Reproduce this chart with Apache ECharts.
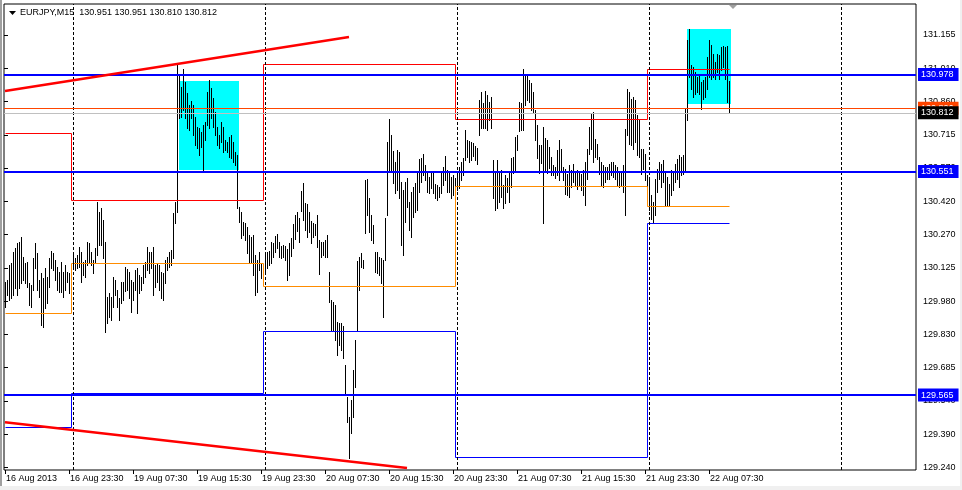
<!DOCTYPE html>
<html>
<head>
<meta charset="utf-8">
<script src="https://cdn.jsdelivr.net/npm/echarts@6/dist/echarts.min.js"></script>
<style>html,body{margin:0;padding:0;background:#fff;}#c{width:962px;height:490px;}</style>
</head>
<body>
<div id="c"></div>
<script>
// ---------- data ----------
const symbolTitle = 'EURJPY,M15';
const headerOHLC = ['130.951', '130.951', '130.810', '130.812'];
const slotCount = 456; // bar slots across the chart (data + right shift)
const xTickLabels = ['16 Aug 2013','16 Aug 23:30','19 Aug 07:30','19 Aug 15:30','19 Aug 23:30','20 Aug 07:30','20 Aug 15:30','20 Aug 23:30','21 Aug 07:30','21 Aug 15:30','21 Aug 23:30','22 Aug 07:30'];
const yTickLabels = ['129.240','129.390','129.540','129.685','129.830','129.980','130.125','130.270','130.420','130.570','130.715','130.860','131.010','131.155'];
const highs = [
130.061,130.070,130.136,130.145,130.194,130.211,130.234,130.238,130.260,130.171,
130.145,130.149,130.056,130.047,130.167,130.234,130.189,130.070,130.101,130.078,
130.123,130.083,130.167,130.198,130.189,130.158,130.127,130.105,130.149,130.105,
130.136,130.105,130.101,130.092,130.180,130.167,130.180,130.216,130.194,130.149,
130.158,130.238,130.234,130.194,130.158,130.211,130.415,130.371,130.389,130.335,
130.238,129.994,130.012,129.994,130.083,130.070,130.025,129.990,130.061,130.061,
130.127,130.118,130.105,130.070,130.061,130.114,130.123,130.092,130.083,130.136,
130.149,130.216,130.194,130.194,130.216,130.136,130.145,130.136,130.105,130.101,
130.158,130.171,130.194,130.203,130.366,130.415,131.022,130.978,130.925,131.004,
130.947,130.898,130.845,130.863,130.845,130.792,130.747,130.743,130.725,130.756,
130.770,130.902,130.956,130.920,130.876,130.814,130.747,130.712,130.770,130.747,
130.690,130.681,130.703,130.712,130.681,130.637,130.623,130.393,130.371,130.327,
130.322,130.304,130.269,130.260,130.269,130.180,130.158,130.194,130.145,130.123,
130.180,130.194,130.198,130.238,130.234,130.265,130.273,130.238,130.220,130.225,
130.220,130.207,130.234,130.256,130.318,130.358,130.371,130.344,130.464,130.499,
130.411,130.406,130.371,130.331,130.322,130.318,130.358,130.247,130.238,130.238,
130.247,130.269,130.105,129.981,129.972,129.959,129.884,129.879,129.879,129.866,
129.693,129.551,129.463,129.538,129.671,129.804,130.154,130.171,130.189,130.158,
130.513,130.517,130.433,130.358,130.313,130.194,130.194,130.171,130.167,130.158,
130.344,130.681,130.783,130.712,130.641,130.592,130.646,130.637,130.504,130.468,
130.504,130.521,130.415,130.459,130.482,130.499,130.548,130.606,130.610,130.628,
130.579,130.548,130.526,130.544,130.544,130.495,130.490,130.482,130.544,130.570,
130.619,130.557,130.544,130.526,130.535,130.521,130.535,130.570,130.592,130.610,
130.734,130.690,130.685,130.681,130.676,130.663,130.654,130.867,130.902,130.854,
130.907,130.889,130.858,130.880,130.601,130.544,130.601,130.544,130.557,130.490,
130.535,130.521,130.544,130.610,130.615,130.703,130.712,130.858,130.854,131.004,
130.978,130.978,130.956,130.942,130.902,130.823,130.756,130.668,130.668,130.747,
130.699,130.690,130.659,130.615,130.579,130.570,130.646,130.690,130.650,130.570,
130.561,130.539,130.579,130.557,130.583,130.548,130.557,130.548,130.539,130.557,
130.592,130.650,130.747,130.805,130.814,130.694,130.672,130.615,130.592,130.579,
130.570,130.570,130.583,130.592,130.592,130.579,130.570,130.548,130.548,130.579,
130.739,130.916,130.902,130.871,130.880,130.867,130.801,130.778,130.650,130.650,
130.628,130.535,130.513,130.446,130.415,130.517,130.561,130.592,130.583,130.601,
130.548,130.526,130.495,130.557,130.548,130.583,130.606,130.623,130.615,130.623,
130.832,131.133,131.182,131.022,131.013,130.991,130.969,130.978,130.947,130.956,
130.969,131.057,131.133,131.111,131.071,131.035,131.071,131.066,131.102,131.106,
131.102,131.106,130.951
];
const lows = [
129.950,130.003,129.981,129.990,130.003,130.034,130.003,130.034,130.056,130.070,
130.056,130.039,129.959,129.950,130.025,130.123,130.025,129.994,129.870,129.861,
129.946,129.968,130.039,130.123,130.114,130.070,130.025,130.016,130.016,129.994,
130.025,130.061,130.012,129.981,130.123,130.114,130.123,130.127,130.061,130.092,
130.083,130.136,130.149,130.136,130.101,130.145,130.180,130.225,130.225,130.167,
129.839,129.879,129.906,129.892,129.950,130.003,129.950,129.892,129.968,129.981,
130.021,130.025,129.990,129.928,129.981,130.025,129.924,130.012,130.025,130.056,
130.083,130.114,130.101,130.123,130.003,130.039,130.061,130.025,129.990,129.981,
130.056,130.114,130.127,130.136,130.167,130.322,130.371,130.787,130.792,130.823,
130.787,130.743,130.734,130.787,130.712,130.668,130.654,130.623,130.659,130.557,
130.690,130.756,130.743,130.787,130.747,130.712,130.668,130.654,130.681,130.637,
130.646,130.637,130.615,130.610,130.592,130.579,130.389,130.327,130.256,130.269,
130.247,130.189,130.149,130.149,130.092,130.003,130.016,130.114,130.078,130.070,
130.105,130.123,130.136,130.145,130.171,130.194,130.211,130.171,130.167,130.171,
130.158,130.070,130.092,130.176,130.211,130.251,130.287,130.238,130.375,130.335,
130.291,130.260,130.282,130.234,130.260,130.269,130.216,130.096,130.171,130.180,
130.171,130.171,129.972,129.848,129.848,129.804,129.737,129.782,129.760,129.724,
129.560,129.441,129.281,129.392,129.463,129.596,129.848,130.025,130.127,130.123,
130.278,130.358,130.282,130.247,130.234,130.105,130.101,130.092,130.056,129.906,
130.158,130.358,130.557,130.557,130.499,130.455,130.468,130.433,130.225,130.180,
130.327,130.393,130.291,130.260,130.349,130.371,130.380,130.459,130.504,130.535,
130.513,130.459,130.455,130.477,130.455,130.433,130.424,130.437,130.455,130.490,
130.513,130.459,130.459,130.433,130.446,130.459,130.468,130.477,130.513,130.535,
130.601,130.615,130.592,130.601,130.619,130.601,130.583,130.712,130.743,130.743,
130.743,130.734,130.778,130.743,130.433,130.380,130.389,130.415,130.437,130.389,
130.411,130.459,130.415,130.482,130.544,130.548,130.646,130.730,130.734,130.734,
130.845,130.867,130.858,130.823,130.814,130.690,130.610,130.544,130.588,130.322,
130.548,130.544,130.566,130.535,130.535,130.521,130.535,130.513,130.557,130.513,
130.451,130.446,130.437,130.482,130.504,130.490,130.473,130.490,130.468,130.446,
130.402,130.517,130.628,130.650,130.592,130.615,130.606,130.539,130.490,130.482,
130.504,130.517,130.517,130.535,130.526,130.517,130.490,130.482,130.490,130.459,
130.358,130.712,130.672,130.668,130.650,130.681,130.623,130.615,130.539,130.561,
130.513,130.459,130.380,130.340,130.327,130.358,130.459,130.517,130.482,130.504,
130.402,130.402,130.402,130.446,130.468,130.504,130.517,130.482,130.535,130.539,
130.548,130.778,130.969,130.916,130.880,130.894,130.902,130.894,130.827,130.871,
130.880,130.916,130.969,130.960,130.969,130.960,130.991,130.960,131.000,131.013,
130.960,130.858,130.810
];
// daily indicator levels (bar index ranges per trading day)
const dayStart = [0, 34, 130, 226, 322];
const dayEnd   = [33, 129, 225, 321, 362];
const prevDayHigh = [130.721, 130.424, 131.027, 130.783, 131.004];
const dayOpen     = [129.924, 130.145, 130.043, 130.486, 130.398];
const prevDayLow  = [129.418, 129.569, 129.844, 129.286, 130.322];
// period separators (bar index of each day start)
const separators = [34, 130, 226, 322, 418];
// horizontal price lines
const blueLevels = [130.978, 130.551, 129.565];
const askPrice = 130.826;
const bidPrice = 130.812;
// trend lines [barIndex, price]
const upperTrend = [[0, 130.907], [172, 131.146]];
const lowerTrend = [[0, 129.440], [201, 129.237]];
// rectangles
const boxStart = [87, 341];
const boxEnd = [117, 363];
const boxTop = [130.951, 131.183];
const boxBottom = [130.557, 130.851];

// ---------- chart ----------
const FONT = '"Liberation Sans", Arial, sans-serif';
const cats = Array.from({length: slotCount}, (_, i) => 'b' + i);
const barData = highs.map((h, i) => [i, h, lows[i]]);
const boxData = boxStart.map((s, k) => [s, boxEnd[k], boxTop[k], boxBottom[k]]);
const showTick = (idx) => idx % 32 === 0 && idx / 32 < xTickLabels.length;
const px = (v) => Math.round(v) + 0.5;

// crisp step-line series for a daily level indicator
function levelSeries(levels, color) {
  const data = levels.map((v, d) => [dayStart[d], dayEnd[d], v, d + 1 < levels.length ? levels[d + 1] : v]);
  return {
    type: 'custom', xAxisIndex: 0, yAxisIndex: 0, z: 4, data: data,
    encode: {x: [0, 1], y: [2, 3]},
    renderItem: (params, api) => {
      const s = api.value(0), e = api.value(1), v = api.value(2), nv = api.value(3);
      const a = api.coord([s, v]), b = api.coord([e, v]);
      const pts = [[px(a[0]), px(a[1])], [px(b[0]), px(b[1])]];
      if (params.dataIndex < levels.length - 1) {
        const c = api.coord([e + 1, nv]);
        pts.push([px(b[0]), px(c[1])]);
        pts.push([px(c[0]), px(c[1])]);
      }
      return {type: 'polyline', shape: {points: pts}, style: {stroke: color, lineWidth: 1, fill: null}};
    }
  };
}

function priceLabel(bg, txt) {
  return {show: true, position: 'end', distance: 2, formatter: () => txt,
    backgroundColor: bg, color: '#fff', fontSize: 9, fontFamily: FONT,
    padding: [2, 5, 1, 3], lineHeight: 10};
}

const chart = echarts.init(document.getElementById('c'), null, {renderer: 'canvas'});
chart.setOption({
  animation: false,
  backgroundColor: '#ffffff',
  grid: [
    {left: 4, top: 4, width: 912, height: 466, show: true, borderColor: '#000', borderWidth: 1, backgroundColor: '#fff'},
    {left: 4, top: 35, width: 912, height: 432.3, show: false}
  ],
  xAxis: [
    {gridIndex: 0, type: 'category', data: cats, boundaryGap: true,
     axisLine: {show: false},
     axisTick: {show: true, interval: showTick, alignWithLabel: true, length: 4, lineStyle: {color: '#000'}},
     axisLabel: {interval: showTick, formatter: (v, idx) => xTickLabels[Math.round(idx / 32)] || '',
       align: 'left', margin: 4, fontSize: 9, color: '#000', fontFamily: FONT, padding: [0, 0, 0, 1]},
     splitLine: {show: false}},
    {gridIndex: 1, type: 'value', show: false, min: 0, max: 1}
  ],
  yAxis: [
    {gridIndex: 0, type: 'value', min: 129.228, max: 131.292, show: false},
    {gridIndex: 1, type: 'value', min: 0, max: yTickLabels.length - 1, interval: 1, position: 'right',
     axisLine: {show: false},
     axisTick: {show: true, length: 4, lineStyle: {color: '#000'}},
     axisLabel: {margin: 7, fontSize: 9, color: '#000', fontFamily: FONT,
       formatter: (v) => yTickLabels[Math.round(v)]},
     splitLine: {show: false}}
  ],
  series: [
    { // rectangles
      type: 'custom', xAxisIndex: 0, yAxisIndex: 0, z: 1, data: boxData,
      encode: {x: [0, 1], y: [2, 3]},
      renderItem: (params, api) => {
        const a = api.coord([api.value(0), api.value(2)]);
        const b = api.coord([api.value(1), api.value(3)]);
        return {type: 'rect', shape: {x: Math.round(a[0]), y: Math.round(a[1]), width: Math.round(b[0]) - Math.round(a[0]), height: Math.round(b[1]) - Math.round(a[1])},
          style: {fill: '#00ffff'}};
      }
    },
    { // period separators
      type: 'line', xAxisIndex: 0, yAxisIndex: 0, z: 2, data: [], symbol: 'none',
      markLine: {silent: true, symbol: ['none', 'none'], animation: false, label: {show: false},
        lineStyle: {color: '#000', width: 1, type: [3, 2]},
        data: separators.map(s => ({xAxis: s}))}
    },
    { // price bars (high-low)
      type: 'custom', xAxisIndex: 0, yAxisIndex: 0, z: 3, data: barData,
      encode: {x: 0, y: [1, 2]},
      renderItem: (params, api) => {
        const t = api.coord([api.value(0), api.value(1)]);
        const b = api.coord([api.value(0), api.value(2)]);
        const x = Math.round(t[0]);
        const y1 = Math.round(t[1]), y2 = Math.round(b[1]) + 1;
        return {type: 'rect', shape: {x: x, y: y1, width: 1, height: Math.max(1, y2 - y1)},
          style: {fill: '#000'}};
      }
    },
    levelSeries(prevDayHigh, '#ff0000'),
    levelSeries(dayOpen, '#ff8c00'),
    levelSeries(prevDayLow, '#0000ff'),
    {type: 'line', name: 'upperTrend', data: upperTrend, symbol: 'none', z: 5,
     lineStyle: {color: '#ff0000', width: 2.5}},
    {type: 'line', name: 'lowerTrend', data: lowerTrend, symbol: 'none', z: 5,
     lineStyle: {color: '#ff0000', width: 2.5},
     markLine: {silent: true, symbol: ['none', 'none'], animation: false,
       data: [
         {yAxis: askPrice, lineStyle: {color: '#ff4500', width: 1, type: 'solid'}, label: priceLabel('#ff4500', askPrice.toFixed(3))},
         {yAxis: bidPrice, lineStyle: {color: '#c0c0c0', width: 1, type: 'solid'}, label: priceLabel('#000000', bidPrice.toFixed(3))}
       ].concat(blueLevels.map(v => ({yAxis: v, lineStyle: {color: '#0000ff', width: 2, type: 'solid'}, label: priceLabel('#0000ff', v.toFixed(3))})))
     }}
  ],
  graphic: [
    {type: 'rect', shape: {x: 0, y: 0, width: 2, height: 490}, style: {fill: '#a0a0a0'}, z: 100},
    {type: 'rect', shape: {x: 0, y: 486, width: 962, height: 4}, style: {fill: '#f0f0f0'}, z: 100},
    {type: 'rect', shape: {x: 960, y: 0, width: 2, height: 490}, style: {fill: '#f0f0f0'}, z: 100},
    {type: 'polygon', shape: {points: [[9, 11], [16, 11], [12.5, 15]]}, style: {fill: '#000'}, z: 100},
    {type: 'text', x: 20, y: 13, style: {text: symbolTitle + '  ' + headerOHLC.join(' '), font: '9px ' + FONT, fill: '#000', textVerticalAlign: 'middle', verticalAlign: 'middle'}, z: 100},
    {type: 'polygon', shape: {points: [[729, 5], [737, 5], [733, 9]]}, style: {fill: '#a0a0a0'}, z: 100}
  ]
});
</script>
</body>
</html>
